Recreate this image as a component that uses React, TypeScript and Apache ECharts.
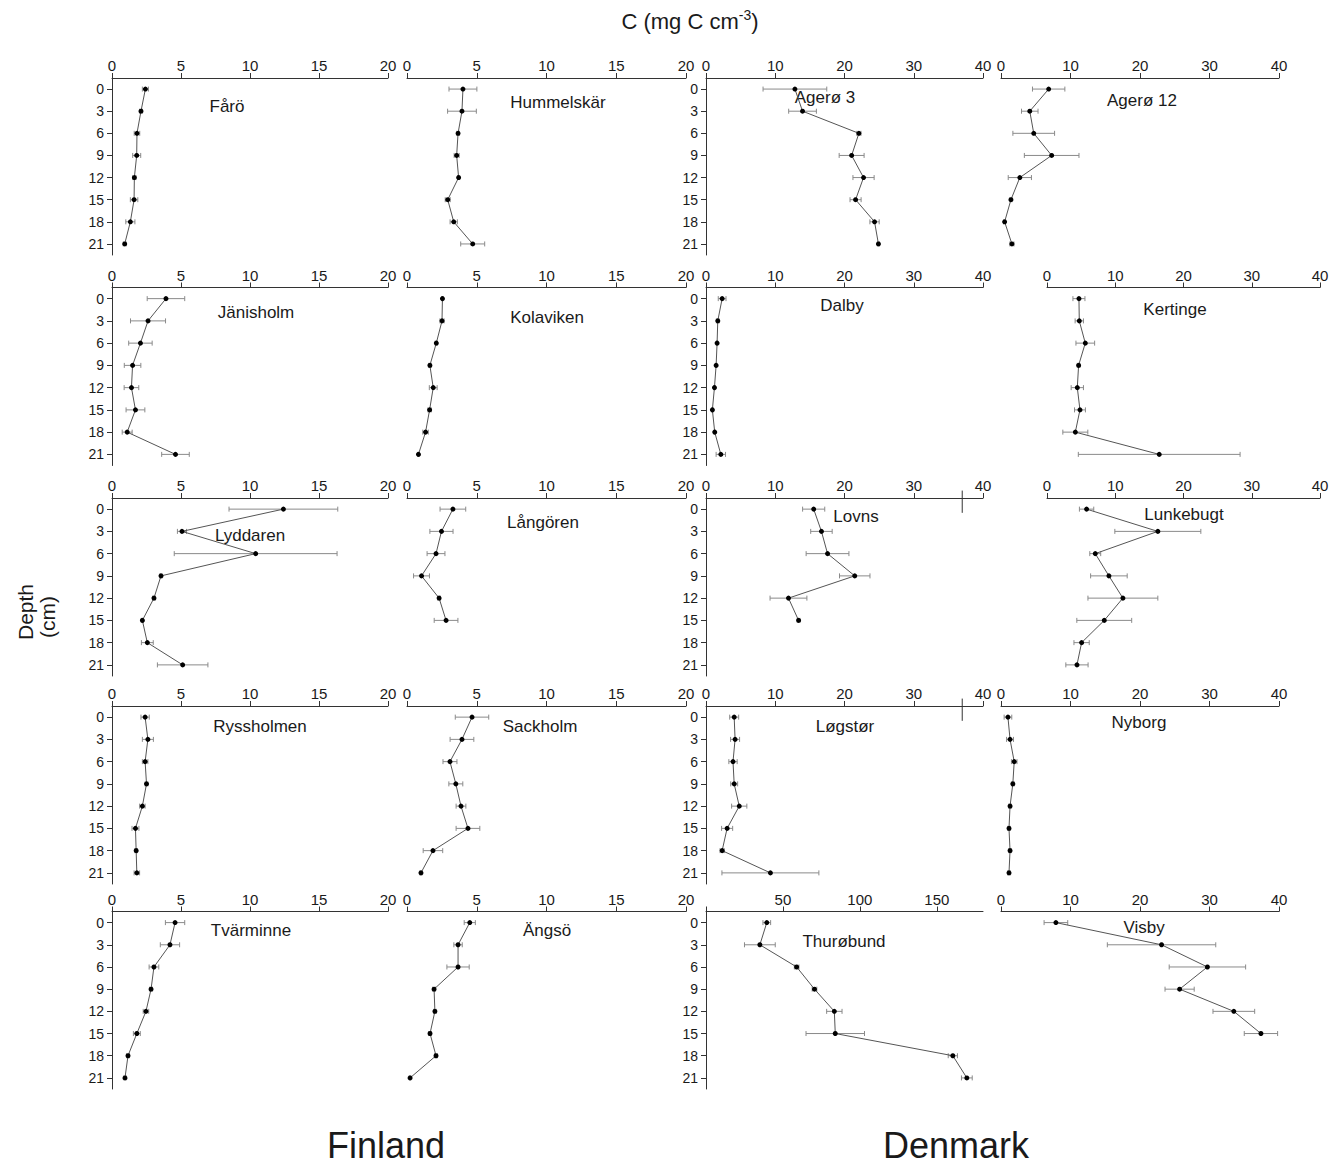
import React, { useEffect, useRef } from "react";
import * as echarts from "echarts";

const FONT = "'Liberation Sans', Arial, sans-serif";

const depths = [0, 3, 6, 9, 12, 15, 18, 21];
const depthTicks = [0, 3, 6, 9, 12, 15, 18, 21];
const ticks20 = [0, 5, 10, 15, 20];
const ticks40 = [0, 10, 20, 30, 40];
const ticks180 = [0, 50, 100, 150];
const labels180 = [50, 100, 150];

// Finland
const faroMean = [2.42, 2.1, 1.81, 1.79, 1.62, 1.6, 1.33, 0.92];
const faroErr = [0.22, 0.1, 0.2, 0.29, 0.12, 0.27, 0.33, 0.1];
const hummelskarMean = [4.01, 3.94, 3.66, 3.56, 3.7, 2.92, 3.35, 4.71];
const hummelskarErr = [1.0, 1.03, 0.1, 0.18, 0.08, 0.18, 0.26, 0.86];
const janisholmMean = [3.91, 2.61, 2.06, 1.49, 1.41, 1.7, 1.1, 4.6];
const janisholmErr = [1.36, 1.27, 0.85, 0.6, 0.53, 0.68, 0.36, 1.0];
const kolavikenMean = [2.54, 2.51, 2.1, 1.64, 1.88, 1.62, 1.33, 0.82];
const kolavikenErr = [0.05, 0.15, 0.08, 0.1, 0.28, 0.12, 0.2, 0.05];
const lyddarenMean = [12.42, 5.07, 10.41, 3.55, 3.04, 2.2, 2.56, 5.12];
const lyddarenErr = [3.94, 0.33, 5.9, 0.08, 0.1, 0.08, 0.43, 1.83];
const langorenMean = [3.29, 2.47, 2.08, 1.04, 2.3, 2.8];
const langorenErr = [0.92, 0.83, 0.64, 0.57, 0.1, 0.85];
const ryssholmenMean = [2.4, 2.6, 2.4, 2.5, 2.2, 1.7, 1.75, 1.8];
const ryssholmenErr = [0.3, 0.4, 0.2, 0.1, 0.2, 0.25, 0.1, 0.2];
const sackholmMean = [4.66, 3.94, 3.08, 3.5, 3.87, 4.37, 1.86, 1.0];
const sackholmErr = [1.2, 0.85, 0.5, 0.5, 0.35, 0.85, 0.7, 0.08];
const tvarminneMean = [4.57, 4.2, 3.04, 2.83, 2.46, 1.8, 1.16, 0.94];
const tvarminneErr = [0.7, 0.7, 0.35, 0.1, 0.2, 0.25, 0.1, 0.08];
const angsoMean = [4.5, 3.66, 3.66, 1.94, 2.0, 1.65, 2.08, 0.22];
const angsoErr = [0.4, 0.3, 0.8, 0.1, 0.1, 0.1, 0.1, 0.05];

// Denmark
const ageroe3Mean = [12.84, 13.94, 22.08, 21.03, 22.75, 21.6, 24.34, 24.9];
const ageroe3Err = [4.6, 2.0, 0.3, 1.8, 1.53, 0.8, 0.67, 0.15];
const ageroe12Mean = [6.86, 4.14, 4.71, 7.29, 2.71, 1.43, 0.52, 1.57];
const ageroe12Err = [2.33, 1.19, 3.0, 3.93, 1.67, 0.15, 0.15, 0.29];
const dalbyMean = [2.33, 1.7, 1.6, 1.46, 1.22, 0.92, 1.26, 2.14];
const dalbyErr = [0.56, 0.2, 0.1, 0.1, 0.1, 0.1, 0.1, 0.68];
const kertingeMean = [4.68, 4.73, 5.61, 4.63, 4.44, 4.83, 4.15, 16.44];
const kertingeErr = [0.88, 0.61, 1.37, 0.2, 0.9, 0.8, 1.83, 11.85];
const lovnsMean = [15.55, 16.67, 17.55, 21.48, 11.91, 13.37];
const lovnsErr = [1.6, 1.55, 3.09, 2.2, 2.66, 0.2];
const lunkebugtMean = [5.8, 16.24, 7.07, 9.07, 11.12, 8.39, 5.07, 4.39];
const lunkebugtErr = [1.05, 6.3, 0.8, 2.68, 5.12, 4.02, 1.12, 1.63];
const logstorMean = [4.07, 4.2, 3.9, 4.07, 4.8, 3.05, 2.33, 9.3];
const logstorErr = [0.65, 0.65, 0.6, 0.5, 1.1, 0.8, 0.3, 7.0];
const nyborgMean = [1.0, 1.3, 1.9, 1.7, 1.3, 1.15, 1.3, 1.15];
const nyborgErr = [0.55, 0.5, 0.4, 0.2, 0.2, 0.2, 0.2, 0.2];
const thurobundMean = [39.5, 35, 58.9, 70.5, 83.4, 84, 160.4, 169.5];
const thurobundErr = [2.5, 10, 1.5, 1.5, 5, 19, 3, 3.5];
const visbyMean = [7.9, 23.1, 29.7, 25.7, 33.5, 37.4];
const visbyErr = [1.7, 7.8, 5.5, 2.1, 3.0, 2.4];

// stray marks at the top of two Danish panels (value, depth from, depth to)
const strayMarkValue = 37;
const strayMarkDepths = [-2.5, 0.5];

type Panel = {
  name: string;
  mean: number[];
  err: number[];
  row: number;
  col: number;
  max: number;
  ticks: number[];
  labels?: number[];
  stray?: boolean;
};

const panels: Panel[] = [
  { name: "Fårö", mean: faroMean, err: faroErr, row: 0, col: 0, max: 20, ticks: ticks20 },
  { name: "Hummelskär", mean: hummelskarMean, err: hummelskarErr, row: 0, col: 1, max: 20, ticks: ticks20 },
  { name: "Agerø 3", mean: ageroe3Mean, err: ageroe3Err, row: 0, col: 2, max: 40, ticks: ticks40 },
  { name: "Agerø 12", mean: ageroe12Mean, err: ageroe12Err, row: 0, col: 3, max: 40, ticks: ticks40 },
  { name: "Jänisholm", mean: janisholmMean, err: janisholmErr, row: 1, col: 0, max: 20, ticks: ticks20 },
  { name: "Kolaviken", mean: kolavikenMean, err: kolavikenErr, row: 1, col: 1, max: 20, ticks: ticks20 },
  { name: "Dalby", mean: dalbyMean, err: dalbyErr, row: 1, col: 2, max: 40, ticks: ticks40 },
  { name: "Kertinge", mean: kertingeMean, err: kertingeErr, row: 1, col: 3, max: 40, ticks: ticks40 },
  { name: "Lyddaren", mean: lyddarenMean, err: lyddarenErr, row: 2, col: 0, max: 20, ticks: ticks20 },
  { name: "Långören", mean: langorenMean, err: langorenErr, row: 2, col: 1, max: 20, ticks: ticks20 },
  { name: "Lovns", mean: lovnsMean, err: lovnsErr, row: 2, col: 2, max: 40, ticks: ticks40, stray: true },
  { name: "Lunkebugt", mean: lunkebugtMean, err: lunkebugtErr, row: 2, col: 3, max: 40, ticks: ticks40 },
  { name: "Ryssholmen", mean: ryssholmenMean, err: ryssholmenErr, row: 3, col: 0, max: 20, ticks: ticks20 },
  { name: "Sackholm", mean: sackholmMean, err: sackholmErr, row: 3, col: 1, max: 20, ticks: ticks20 },
  { name: "Løgstør", mean: logstorMean, err: logstorErr, row: 3, col: 2, max: 40, ticks: ticks40, stray: true },
  { name: "Nyborg", mean: nyborgMean, err: nyborgErr, row: 3, col: 3, max: 40, ticks: ticks40 },
  { name: "Tvärminne", mean: tvarminneMean, err: tvarminneErr, row: 4, col: 0, max: 20, ticks: ticks20 },
  { name: "Ängsö", mean: angsoMean, err: angsoErr, row: 4, col: 1, max: 20, ticks: ticks20 },
  { name: "Thurøbund", mean: thurobundMean, err: thurobundErr, row: 4, col: 2, max: 180, ticks: ticks180, labels: labels180 },
  { name: "Visby", mean: visbyMean, err: visbyErr, row: 4, col: 3, max: 40, ticks: ticks40 },
];

// layout (pixels)
const colLayout = [
  { left: 112, right: 388 },
  { left: 407, right: 686 },
  { left: 706, right: 983 },
  { left: 1001, right: 1279 },
];
const shiftedCol4 = { left: 1047, right: 1320 };
const rowLayout = [
  { top: 78, bottom: 255 },
  { top: 287.5, bottom: 465.5 },
  { top: 498, bottom: 676 },
  { top: 706, bottom: 884 },
  { top: 911.5, bottom: 1089 },
];
const titlePos: Record<string, [number, number]> = {
  "Fårö": [227, 106],
  "Hummelskär": [558, 102],
  "Agerø 3": [825, 97],
  "Agerø 12": [1142, 100],
  "Jänisholm": [256, 312],
  "Kolaviken": [547, 317],
  "Dalby": [842, 305],
  "Kertinge": [1175, 309],
  "Lyddaren": [250, 535],
  "Långören": [543, 522],
  "Lovns": [856, 516],
  "Lunkebugt": [1184, 514],
  "Ryssholmen": [260, 726],
  "Sackholm": [540, 726],
  "Løgstør": [845, 726],
  "Nyborg": [1139, 722],
  "Tvärminne": [251, 930],
  "Ängsö": [547, 930],
  "Thurøbund": [844, 941],
  "Visby": [1144, 927],
};

const AXIS = "#333";
const TEXT = "#1a1a1a";

function buildOption() {
  const grid: any[] = [];
  const xAxis: any[] = [];
  const yAxis: any[] = [];
  const series: any[] = [];
  const graphic: any[] = [];

  panels.forEach((p, i) => {
    const c = p.col === 3 && (p.row === 1 || p.row === 2) ? shiftedCol4 : colLayout[p.col];
    const r = rowLayout[p.row];
    grid.push({
      left: c.left,
      width: c.right - c.left,
      top: r.top,
      height: r.bottom - r.top,
      containLabel: false,
    });
    xAxis.push({
      gridIndex: i,
      type: "value",
      position: "top",
      min: 0,
      max: p.max,
      axisLine: { show: true, onZero: false, lineStyle: { color: AXIS, width: 1 } },
      axisTick: { show: true, length: 5, customValues: p.ticks, lineStyle: { color: AXIS } },
      axisLabel: {
        customValues: p.labels || p.ticks,
        fontSize: 15,
        color: TEXT,
        fontFamily: FONT,
        margin: 5,
      },
      splitLine: { show: false },
    });
    const showY = p.col === 0 || p.col === 2;
    yAxis.push({
      gridIndex: i,
      type: "value",
      inverse: true,
      min: -1.5,
      max: 22.5,
      show: showY,
      axisLine: { show: true, onZero: false, lineStyle: { color: AXIS, width: 1 } },
      axisTick: { show: true, length: 5, customValues: depthTicks, lineStyle: { color: AXIS } },
      axisLabel: {
        customValues: depthTicks,
        fontSize: 14,
        color: TEXT,
        fontFamily: FONT,
        margin: 8,
      },
      splitLine: { show: false },
    });

    const ebData = p.mean.map((m, k) => [m, depths[k], p.err[k]]);
    series.push({
      type: "custom",
      xAxisIndex: i,
      yAxisIndex: i,
      data: ebData,
      encode: { x: 0, y: 1 },
      z: 2,
      renderItem: (params: any, api: any) => {
        const v = api.value(0);
        const d = api.value(1);
        const e = api.value(2);
        const a = api.coord([v - e, d]);
        const b = api.coord([v + e, d]);
        const h = 2.5;
        const st = { stroke: "#8a8a8a", lineWidth: 1 };
        return {
          type: "group",
          children: [
            { type: "line", shape: { x1: a[0], y1: a[1], x2: b[0], y2: b[1] }, style: st },
            { type: "line", shape: { x1: a[0], y1: a[1] - h, x2: a[0], y2: a[1] + h }, style: st },
            { type: "line", shape: { x1: b[0], y1: b[1] - h, x2: b[0], y2: b[1] + h }, style: st },
          ],
        };
      },
    });
    series.push({
      type: "line",
      xAxisIndex: i,
      yAxisIndex: i,
      data: p.mean.map((m, k) => [m, depths[k]]),
      symbol: "circle",
      symbolSize: 5,
      showSymbol: true,
      itemStyle: { color: "#000" },
      lineStyle: { color: "#555", width: 1 },
      z: 3,
    });
    if (p.stray) {
      series.push({
        type: "line",
        xAxisIndex: i,
        yAxisIndex: i,
        data: strayMarkDepths.map((d) => [strayMarkValue, d]),
        symbol: "none",
        clip: false,
        lineStyle: { color: "#333", width: 1 },
        z: 3,
      });
    }
    const tp = titlePos[p.name];
    graphic.push({
      type: "text",
      x: tp[0],
      y: tp[1],
      style: {
        text: p.name,
        font: `17px ${FONT}`,
        fill: TEXT,
        textAlign: "center",
        textVerticalAlign: "middle",
      },
    });
  });

  graphic.push({
    type: "text",
    x: 690,
    y: 21,
    style: {
      text: "C (mg C cm{sup|-3})",
      font: `22px ${FONT}`,
      fill: TEXT,
      textAlign: "center",
      textVerticalAlign: "middle",
      rich: {
        sup: { fontSize: 14, fontFamily: FONT, verticalAlign: "top", padding: [0, 0, 12, 0], fill: TEXT },
      },
    },
  });
  graphic.push({
    type: "text",
    x: 25,
    y: 612,
    rotation: Math.PI / 2,
    style: {
      text: "Depth",
      font: `21px ${FONT}`,
      fill: TEXT,
      textAlign: "center",
      textVerticalAlign: "middle",
    },
  });
  graphic.push({
    type: "text",
    x: 47,
    y: 617,
    rotation: Math.PI / 2,
    style: {
      text: "(cm)",
      font: `21px ${FONT}`,
      fill: TEXT,
      textAlign: "center",
      textVerticalAlign: "middle",
    },
  });
  graphic.push({
    type: "text",
    x: 386,
    y: 1145,
    style: { text: "Finland", font: `36px ${FONT}`, fill: TEXT, textAlign: "center", textVerticalAlign: "middle" },
  });
  graphic.push({
    type: "text",
    x: 956,
    y: 1145,
    style: { text: "Denmark", font: `36px ${FONT}`, fill: TEXT, textAlign: "center", textVerticalAlign: "middle" },
  });

  return {
    animation: false,
    backgroundColor: "#ffffff",
    textStyle: { fontFamily: FONT },
    grid,
    xAxis,
    yAxis,
    series,
    graphic,
  };
}

export default function App() {
  const ref = useRef<HTMLDivElement>(null);
  useEffect(() => {
    if (!ref.current) return;
    const chart = echarts.init(ref.current, undefined, { renderer: "svg" });
    chart.setOption(buildOption() as any);
    return () => chart.dispose();
  }, []);
  return (
    <div
      ref={ref}
      style={{ position: "absolute", left: 0, top: 0, width: 1341, height: 1166, background: "#fff" }}
    />
  );
}
